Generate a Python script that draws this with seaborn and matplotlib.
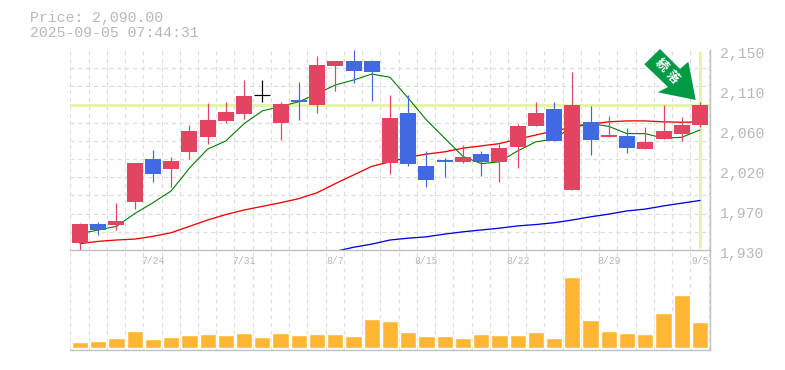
import numpy as np
import pandas as pd
import matplotlib
matplotlib.use("Agg")
import matplotlib.pyplot as plt
from matplotlib.patches import Polygon
from matplotlib.transforms import ScaledTranslation
import seaborn as sns

# Daily candles, oldest first
opens = [1938, 1959, 1958, 1983, 2030, 2019, 2038, 2054, 2072, 2080, 2101, 2070, 2095, 2090, 2132, 2138, 2138, 2026,
         2081, 2022, 2029, 2027, 2036, 2027, 2043, 2066, 2085, 1996, 2071, 2054, 2055, 2041, 2052, 2058, 2067]
closes = [1959, 1952, 1962, 2026, 2014, 2028, 2061, 2073, 2082, 2099, 2101, 2091, 2093, 2134, 2138, 2127, 2126, 2075,
          2025, 2007, 2027, 2032, 2027, 2042, 2066, 2081, 2050, 2090, 2051, 2056.5, 2042, 2049, 2061, 2067, 2090]
highs = [1960, 1961, 1982, 2026, 2040, 2032, 2067.5, 2092, 2093, 2117, 2117, 2093, 2115, 2143.5, 2138, 2150, 2139, 2100.5,
         2100.5, 2039, 2031, 2045.5, 2039, 2046.5, 2068.5, 2093, 2093, 2126, 2088, 2077, 2064, 2065, 2089.5, 2076, 2093]
lows = [1929, 1947, 1952, 1975, 2005, 1999, 2030, 2046.5, 2070, 2074, 2093, 2051, 2073, 2081, 2105, 2114, 2094, 2013.5,
        2022, 1999, 2010, 2026, 2011, 2005, 2020, 2066, 2050, 1996, 2034.5, 2054, 2036.5, 2041, 2052, 2050, 2065]
volumes = [6, 7, 10, 17, 9, 11, 13, 14, 13, 15, 11, 15, 13, 14, 14, 12, 29, 27,
           16, 12, 12, 10, 14, 13, 13, 16, 10, 71, 28, 17, 15, 14, 35, 53, 26]

# Moving averages
ma_short = [1948, 1952, 1956, 1970, 1982, 1995, 2020, 2041, 2050, 2069, 2083, 2088, 2093, 2102, 2111.5, 2117, 2123.5, 2120,
            2097, 2073, 2053, 2033, 2025, 2027, 2039, 2049, 2052, 2066, 2069, 2066, 2058, 2058, 2053, 2054, 2062]
ma_mid = [1937, 1939.5, 1941, 1942, 1945, 1949, 1956, 1963, 1969, 1974, 1978, 1982, 1986.5, 1993, 2003, 2012.5, 2022, 2027,
          2032, 2035.5, 2038, 2042, 2044.5, 2047, 2052, 2056.5, 2061, 2065, 2068.5, 2071, 2072, 2072, 2071, 2070.5, 2071]
ma_long = [np.nan] * 14 + [1928.5, 1933, 1936.5, 1941, 1943, 1944.5, 1947.5, 1950, 1952, 1954, 1956.5, 1958, 1960, 1963,
                           1966.5, 1969.5, 1973, 1975, 1978.5, 1981.5, 1984.5]

date_ticks = [4, 9, 14, 19, 24, 29, 34]
date_labels = ["7/24", "7/31", "8/7", "8/15", "8/22", "8/29", "9/5"]
price_ticks = [2150, 2106, 2062, 2018, 1974, 1930]
price_labels = ["2,150", "2,110", "2,060", "2,020", "1,970", "1,930"]
last_price = 2090

W, H = 785, 370
RED, BLUE = "#e24462", "#4169e1"
GRID, AXIS, TEXT = "#dddddd", "#c0c0c0", "#b8b8b8"
HILITE = "#e4f4a8"
PX = 0.72  # one pixel in points at dpi 100

sns.set_theme(style="white")
plt.rcParams["font.family"] = ["Liberation Mono", "DejaVu Sans Mono"]

df = pd.DataFrame({"i": np.arange(len(opens)), "open": opens, "close": closes, "high": highs, "low": lows,
                   "volume": volumes, "short": ma_short, "mid": ma_mid, "long": ma_long})


def axes_px(left, top, right, bottom):
    return [left / W, 1 - bottom / H, (right - left) / W, (bottom - top) / H]


fig = plt.figure(figsize=(W / 100, H / 100), dpi=100)
vol_ax = fig.add_axes(axes_px(70, 250, 710, 350))
ax = fig.add_axes(axes_px(70, 50, 710, 250))
vol_ax.patch.set_visible(False)

xlim = (-0.548, 34.548)
grid_x = df["i"].to_numpy() - 0.53
grid_x = np.append(grid_x, grid_x[-1] + 1)

# volume panel
sns.barplot(data=df, x="i", y="volume", ax=vol_ax, native_scale=True, width=0.89, color="#ffb733", saturation=1, zorder=3)
vol_ax.set_ylim(-2, 98)
vol_ax.set_yticks([])
vol_ax.set_xticks([])
vol_ax.set_xlabel("")
vol_ax.set_ylabel("")

for a in (ax, vol_ax):
    a.set_xlim(xlim)
    a.set_xticks(grid_x, minor=True)
    a.grid(True, which="minor", axis="x", color=GRID, lw=PX * 1.2, ls=(0, (3.5, 3)))
    a.set_axisbelow(True)
    a.tick_params(which="both", length=0)
    for side in ("top", "left"):
        a.spines[side].set_visible(False)
    for side in ("bottom", "right"):
        a.spines[side].set_color(AXIS)
        a.spines[side].set_linewidth(PX * 1.4)

# price panel
ax.set_ylim(1930, 2150)
ax.set_yticks(np.arange(1930, 2151, 20), minor=True)
ax.grid(True, which="minor", axis="y", color=GRID, lw=PX * 1.2, ls=(0, (3.5, 3)))
ax.yaxis.tick_right()
ax.set_yticks(price_ticks, price_labels)
ax.set_xticks(date_ticks, date_labels)
ax.tick_params(axis="y", which="major", pad=7, labelsize=10.7, labelcolor=TEXT)
ax.tick_params(axis="x", which="major", pad=4, labelsize=7, labelcolor=TEXT)
shift = ScaledTranslation(0, -3 / 100, fig.dpi_scale_trans)
for lab in ax.get_yticklabels():
    lab.set_transform(lab.get_transform() + shift)

ax.axhline(last_price, color=HILITE, lw=PX * 3, zorder=1.5)
ax.plot([df["i"].iloc[-1]] * 2, [1932, 2149], color=HILITE, lw=PX * 3, zorder=1.5, solid_capstyle="butt")

sns.lineplot(data=df, x="i", y="long", ax=ax, color="#0000e0", lw=PX * 1.3, zorder=2, legend=False)
sns.lineplot(data=df, x="i", y="mid", ax=ax, color="#f00000", lw=PX * 1.3, zorder=2, legend=False)
sns.lineplot(data=df, x="i", y="short", ax=ax, color="#007a00", lw=PX * 1.1, zorder=2, legend=False)
ax.set_xlabel("")
ax.set_ylabel("")

colors = [RED if c > o else BLUE if c < o else "black" for o, c in zip(opens, closes)]
ax.vlines(df["i"], df["low"], df["high"], colors=colors, lw=PX * 1.2, zorder=3)
body = (df["close"] - df["open"]).abs()
flat = body == 0
ax.bar(df["i"][~flat], body[~flat], bottom=df[["open", "close"]].min(axis=1)[~flat], width=0.877,
       color=[c for c, f in zip(colors, flat) if not f], zorder=3, linewidth=0)
ax.hlines(df["close"][flat], df["i"][flat] - 0.44, df["i"][flat] + 0.44, colors="black", lw=PX * 1.2, zorder=3)

# header
fig.text(30 / W, 1 - 18 / H, f"Price: {last_price:,.2f}", fontsize=10.7, color=TEXT, va="center")
fig.text(30 / W, 1 - 33 / H, "2025-09-05 07:44:31", fontsize=10.7, color=TEXT, va="center")

# signal arrow
arrow_px = [(660, 49), (644.3, 64.3), (668, 87), (657.7, 92.3), (695.7, 100), (688.3, 61.7), (680, 69)]
fig.add_artist(Polygon([(x / W, 1 - y / H) for x, y in arrow_px], closed=True, transform=fig.transFigure,
                       facecolor="#009944", edgecolor="none", zorder=5))
for (x, y), ch in zip([(661, 65), (672.7, 77.7)], "続落"):
    fig.text(x / W, 1 - y / H, ch, color="white", fontsize=9, fontweight="bold", rotation=-45, ha="center", va="center",
             family=["Noto Sans CJK JP", "DejaVu Sans"], zorder=6, rotation_mode="anchor")

fig.savefig("out.png", dpi=100)
